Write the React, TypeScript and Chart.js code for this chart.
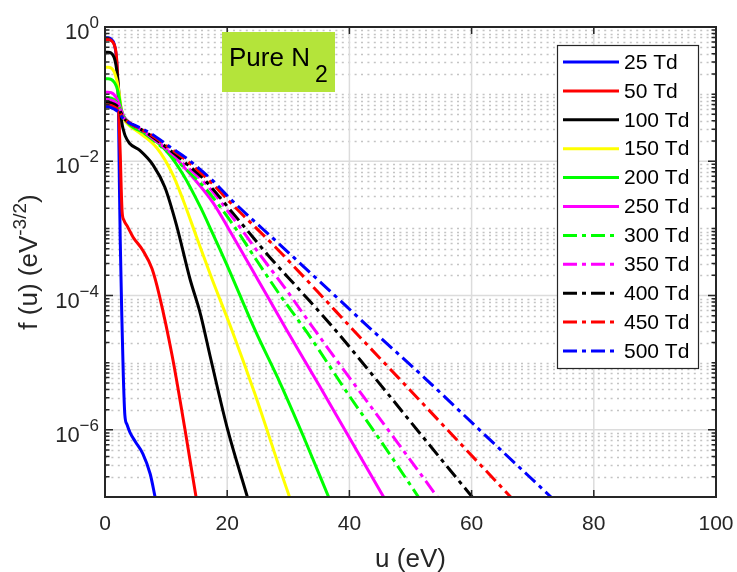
import React, { useEffect, useRef } from 'react';
import { Chart, registerables } from 'chart.js';

Chart.register(...registerables);

const FONT = '"Liberation Sans", Arial, Helvetica, sans-serif';

// ---- data (u in eV, f in eV^-3/2) ----
const U_25 = [0, 0.5, 1, 1.5, 1.8, 2.0, 2.2, 2.35, 2.5, 2.75, 3.0, 3.25, 3.6, 4.1, 5.0, 6.2, 7.4, 8.2];
const F_25 = [0.69, 0.69, 0.66, 0.56, 0.4, 0.224, 0.063, 5.0e-3, 6.3e-4, 5.0e-5, 6.3e-6, 1.66e-6, 1.2e-6, 9.1e-7, 6.6e-7, 4.4e-7, 2.2e-7, 1e-7];

const U_50 = [0, 0.5, 1, 1.5, 1.8, 2.0, 2.15, 2.3, 2.5, 2.65, 2.8, 3.1, 3.6, 4.6, 6.2, 7.7, 8.9, 11, 13.1, 14.9];
const F_50 = [0.65, 0.65, 0.63, 0.55, 0.42, 0.25, 0.115, 0.04, 0.0126, 4.0e-3, 1.78e-3, 1.32e-3, 1.1e-3, 7.4e-4, 4.7e-4, 2.5e-4, 1e-4, 1.26e-5, 1e-6, 1e-7];

const U_100 = [0, 0.5, 1, 1.5, 1.8, 2.0, 2.3, 2.6, 2.8, 3.0, 3.3, 4.0, 5.7, 7.9, 9.8, 11.7, 13.9, 15.6, 17.2, 20, 23.3];
const F_100 = [0.42, 0.42, 0.41, 0.35, 0.27, 0.2, 0.1, 0.05, 0.0355, 0.0295, 0.024, 0.0186, 0.0145, 8.7e-3, 4.1e-3, 1.12e-3, 1.78e-4, 5.4e-5, 1.26e-5, 1.07e-6, 1e-7];

const U_150 = [0, 0.5, 1, 1.5, 1.8, 2.0, 2.3, 2.6, 3.0, 4.0, 5.4, 8.5, 11, 12.8, 15, 17.5, 20.8, 24.5, 28.7, 30.2];
const F_150 = [0.251, 0.251, 0.245, 0.214, 0.178, 0.151, 0.105, 0.066, 0.0447, 0.0339, 0.0275, 0.0158, 6.6e-3, 2.63e-3, 7.4e-4, 1.78e-4, 3.0e-5, 3.5e-6, 2.5e-7, 1e-7];

const U_200 = [0, 0.5, 1, 1.5, 1.8, 2.0, 2.3, 2.6, 3.0, 4.0, 6.9, 10.2, 12.8, 15.6, 17.5, 20, 24.6, 28.7, 32.5, 36.6];
const F_200 = [0.17, 0.17, 0.166, 0.151, 0.135, 0.12, 0.091, 0.063, 0.0479, 0.0355, 0.0251, 0.0138, 6.3e-3, 2.09e-3, 8.9e-4, 2.8e-4, 3.0e-5, 4.9e-6, 7.9e-7, 1e-7];

const U_250 = [0, 0.5, 1, 1.5, 2.0, 2.5, 3.0, 4.0, 5.0, 7.4, 11.1, 14.4, 17.7, 20.2, 25, 29.8, 35, 40, 45.6];
const F_250 = [0.107, 0.107, 0.105, 0.098, 0.083, 0.063, 0.0479, 0.038, 0.0331, 0.024, 0.0123, 5.75e-3, 2.4e-3, 1e-3, 1.74e-4, 3.0e-5, 4.7e-6, 7.6e-7, 1e-7];

const U_300 = [0, 0.5, 1, 1.5, 2.0, 2.5, 3.0, 4.0, 5.0, 7.4, 10.7, 13.4, 16.7, 21, 25, 28.7, 33.1, 40, 45, 51.3];
const F_300 = [0.089, 0.089, 0.087, 0.083, 0.074, 0.06, 0.0468, 0.0372, 0.0324, 0.0224, 0.0126, 7.4e-3, 3.7e-3, 1.12e-3, 3.16e-4, 1e-4, 2.8e-5, 3.2e-6, 7.1e-7, 1e-7];

const U_350 = [0, 0.5, 1, 1.5, 2.0, 2.5, 3.0, 4.0, 5.0, 7.4, 10.7, 13.4, 16.7, 21, 25, 29.8, 34.4, 40, 47, 54.4];
const F_350 = [0.083, 0.083, 0.081, 0.078, 0.071, 0.059, 0.0457, 0.0372, 0.0331, 0.0234, 0.0135, 8.3e-3, 4.4e-3, 1.41e-3, 4.5e-4, 1.17e-4, 3.0e-5, 6.0e-6, 8.3e-7, 1e-7];

const U_400 = [0, 0.5, 1, 1.5, 2.0, 2.5, 3.0, 4.0, 5.0, 7.4, 10.7, 13.4, 16.2, 21, 27, 32, 37.4, 45, 52, 60.1];
const F_400 = [0.076, 0.076, 0.074, 0.071, 0.066, 0.056, 0.0447, 0.0372, 0.0331, 0.0245, 0.0145, 9.1e-3, 5.4e-3, 1.66e-3, 3.7e-4, 1.17e-4, 3.3e-5, 4.8e-6, 7.9e-7, 1e-7];

const U_450 = [0, 0.5, 1, 1.5, 2.0, 2.5, 3.0, 4.0, 5.0, 7.4, 10.7, 13.4, 17.2, 21, 27.9, 34.7, 40.5, 48, 57, 66.4];
const F_450 = [0.069, 0.069, 0.068, 0.065, 0.06, 0.052, 0.0437, 0.0372, 0.0331, 0.0251, 0.0155, 0.0102, 5.0e-3, 2.19e-3, 5.25e-4, 1.17e-4, 3.16e-5, 6.0e-6, 8.1e-7, 1e-7];

const U_500 = [0, 0.5, 1, 1.5, 2.0, 2.5, 3.0, 4.0, 5.0, 7.4, 10.7, 13.4, 17.2, 21, 27.9, 36.9, 43.8, 52, 62, 73];
const F_500 = [0.065, 0.065, 0.063, 0.06, 0.056, 0.05, 0.0427, 0.0372, 0.0339, 0.0263, 0.0162, 0.011, 5.6e-3, 2.5e-3, 6.6e-4, 1.15e-4, 3.0e-5, 6.3e-6, 8.7e-7, 1e-7];

const LABELS = ['25 Td', '50 Td', '100 Td', '150 Td', '200 Td', '250 Td', '300 Td', '350 Td', '400 Td', '450 Td', '500 Td'];
const COLORS = ['#0000ff', '#ff0000', '#000000', '#ffff00', '#00ff00', '#ff00ff', '#00ff00', '#ff00ff', '#000000', '#ff0000', '#0000ff'];
const DASHED = [false, false, false, false, false, false, true, true, true, true, true];
const U_LIST = [U_25, U_50, U_100, U_150, U_200, U_250, U_300, U_350, U_400, U_450, U_500];
const F_LIST = [F_25, F_50, F_100, F_150, F_200, F_250, F_300, F_350, F_400, F_450, F_500];

const X_TICKS = [0, 20, 40, 60, 80, 100];
const Y_MAJOR_EXP = [0, -2, -4, -6];
const Y_MIN = 1e-7;
const Y_MAX = 1;
const DASH_DOT = [14, 5, 4, 5];

const AXIS_COLOR = '#262626';

const matlabPlugin = {
  id: 'matlabLook',
  beforeDatasetsDraw(chart: any) {
    const { ctx, chartArea: a, scales } = chart;
    const xs = scales.x;
    const ys = scales.y;
    ctx.save();
    // minor dotted horizontal grid
    ctx.strokeStyle = '#c4c4c4';
    ctx.lineWidth = 1.5;
    ctx.setLineDash([2, 4.4]);
    for (let k = -7; k <= -1; k++) {
      for (let m = 1; m <= 9; m++) {
        if (m === 1 && k % 2 === 0) continue;
        const v = m * Math.pow(10, k);
        if (v <= Y_MIN * 1.0001 || v >= Y_MAX * 0.9999) continue;
        const y = Math.round(ys.getPixelForValue(v)) + 0.5;
        ctx.beginPath();
        ctx.moveTo(a.left, y);
        ctx.lineTo(a.right, y);
        ctx.stroke();
      }
    }
    ctx.setLineDash([]);
    // major grid
    ctx.strokeStyle = '#dcdcdc';
    ctx.lineWidth = 1.5;
    for (const e of Y_MAJOR_EXP) {
      const v = Math.pow(10, e);
      if (v >= Y_MAX * 0.9999) continue;
      const y = ys.getPixelForValue(v);
      ctx.beginPath();
      ctx.moveTo(a.left, y);
      ctx.lineTo(a.right, y);
      ctx.stroke();
    }
    for (const t of X_TICKS) {
      if (t <= 0 || t >= 100) continue;
      const x = xs.getPixelForValue(t);
      ctx.beginPath();
      ctx.moveTo(x, a.top);
      ctx.lineTo(x, a.bottom);
      ctx.stroke();
    }
    ctx.restore();
  },
  afterDatasetsDraw(chart: any) {
    const { ctx, chartArea: a, scales } = chart;
    const xs = scales.x;
    const ys = scales.y;
    ctx.save();
    // axes box
    ctx.strokeStyle = AXIS_COLOR;
    ctx.lineWidth = 2;
    ctx.setLineDash([]);
    ctx.strokeRect(a.left, a.top, a.right - a.left, a.bottom - a.top);
    // y ticks
    ctx.lineWidth = 1.5;
    for (let k = -7; k <= 0; k++) {
      for (let m = 1; m <= 9; m++) {
        const v = m * Math.pow(10, k);
        if (v < Y_MIN * 0.9999 || v > Y_MAX * 1.0001) continue;
        const y = ys.getPixelForValue(v);
        const major = m === 1 && k % 2 === 0;
        const len = major ? 8 : 4.5;
        ctx.beginPath();
        ctx.moveTo(a.left, y);
        ctx.lineTo(a.left + len, y);
        ctx.moveTo(a.right, y);
        ctx.lineTo(a.right - len, y);
        ctx.stroke();
      }
    }
    // x ticks
    for (const t of X_TICKS) {
      const x = xs.getPixelForValue(t);
      ctx.beginPath();
      ctx.moveTo(x, a.bottom);
      ctx.lineTo(x, a.bottom - 7);
      ctx.moveTo(x, a.top);
      ctx.lineTo(x, a.top + 7);
      ctx.stroke();
    }
    // x tick labels
    ctx.fillStyle = AXIS_COLOR;
    ctx.font = `21px ${FONT}`;
    ctx.textAlign = 'center';
    ctx.textBaseline = 'alphabetic';
    for (const t of X_TICKS) {
      ctx.fillText(String(t), xs.getPixelForValue(t), a.bottom + 33);
    }
    // y tick labels 10^e
    for (const e of Y_MAJOR_EXP) {
      const y = ys.getPixelForValue(Math.pow(10, e));
      ctx.font = `17px ${FONT}`;
      const sup = e < 0 ? '\u2212' + String(-e) : String(e);
      const sw = ctx.measureText(sup).width;
      ctx.font = `22px ${FONT}`;
      const bw = ctx.measureText('10').width;
      const right = a.left - 6;
      ctx.textAlign = 'left';
      ctx.fillText('10', right - sw - bw, y + 12);
      ctx.font = `17px ${FONT}`;
      ctx.fillText(sup, right - sw, y + 1);
    }
    // x axis label
    ctx.font = `26px ${FONT}`;
    ctx.textAlign = 'center';
    ctx.fillText('u (eV)', (a.left + a.right) / 2, 567);
    // y axis label (rotated)
    ctx.save();
    ctx.translate(37, (a.top + a.bottom) / 2);
    ctx.rotate(-Math.PI / 2);
    ctx.textAlign = 'left';
    const p1 = 'f (u) (eV';
    const p2 = '-3/2';
    const p3 = ')';
    ctx.font = `26px ${FONT}`;
    const w1 = ctx.measureText(p1).width;
    const w3 = ctx.measureText(p3).width;
    ctx.font = `19px ${FONT}`;
    const w2 = ctx.measureText(p2).width;
    let sx = -(w1 + w2 + w3) / 2;
    ctx.font = `26px ${FONT}`;
    ctx.fillText(p1, sx, 0);
    sx += w1;
    ctx.font = `19px ${FONT}`;
    ctx.fillText(p2, sx, -11);
    sx += w2;
    ctx.font = `26px ${FONT}`;
    ctx.fillText(p3, sx, 0);
    ctx.restore();

    // annotation box "Pure N2"
    ctx.fillStyle = '#b4e43a';
    ctx.fillRect(222, 32, 113, 60);
    ctx.fillStyle = '#000000';
    ctx.textAlign = 'left';
    ctx.font = `26px ${FONT}`;
    ctx.fillText('Pure N', 229, 66);
    const pw = ctx.measureText('Pure N').width;
    ctx.font = `23px ${FONT}`;
    ctx.fillText('2', 229 + pw + 5, 82);

    // legend
    const lx = 557.5, ly = 45.5, lw = 141, lh = 323;
    ctx.fillStyle = '#ffffff';
    ctx.fillRect(lx, ly, lw, lh);
    ctx.strokeStyle = AXIS_COLOR;
    ctx.lineWidth = 1.2;
    ctx.strokeRect(lx, ly, lw, lh);
    chart.data.datasets.forEach((ds: any, i: number) => {
      const ry = 62 + i * 28.9;
      ctx.strokeStyle = ds.borderColor;
      ctx.lineWidth = 3;
      ctx.setLineDash(ds.borderDash || []);
      ctx.beginPath();
      ctx.moveTo(563, ry);
      ctx.lineTo(619, ry);
      ctx.stroke();
      ctx.setLineDash([]);
      ctx.fillStyle = '#000000';
      ctx.font = `21px ${FONT}`;
      ctx.textBaseline = 'middle';
      ctx.fillText(ds.label, 624, ry + 1);
      ctx.textBaseline = 'alphabetic';
    });
    ctx.restore();
  },
};

export default function App() {
  const ref = useRef<HTMLCanvasElement | null>(null);
  useEffect(() => {
    document.body.style.margin = '0';
    const canvas = ref.current;
    if (!canvas) return;
    const datasets = LABELS.map((label, i) => ({
      label,
      data: U_LIST[i].map((u, j) => ({ x: u, y: F_LIST[i][j] })),
      borderColor: COLORS[i],
      backgroundColor: COLORS[i],
      borderWidth: 3,
      borderDash: DASHED[i] ? DASH_DOT : [],
      pointRadius: 0,
      fill: false,
      cubicInterpolationMode: 'monotone' as const,
      order: -i,
    }));
    const chart = new Chart(canvas, {
      type: 'line',
      data: { datasets },
      options: {
        responsive: false,
        animation: false,
        devicePixelRatio: 1,
        layout: { padding: { left: 0, right: 21, top: 27, bottom: 0 } },
        plugins: { legend: { display: false }, tooltip: { enabled: false } },
        scales: {
          x: {
            type: 'linear',
            min: 0,
            max: 100,
            grid: { display: false },
            border: { display: false },
            ticks: { display: false },
            afterFit: (s: any) => {
              s.height = 75;
            },
          },
          y: {
            type: 'logarithmic',
            min: Y_MIN,
            max: Y_MAX,
            grid: { display: false },
            border: { display: false },
            ticks: { display: false },
            afterFit: (s: any) => {
              s.width = 105;
            },
          },
        },
      } as any,
      plugins: [matlabPlugin],
    });
    return () => chart.destroy();
  }, []);
  return (
    <div style={{ width: 737, height: 572, background: '#ffffff' }}>
      <canvas ref={ref} width={737} height={572} style={{ display: 'block' }} />
    </div>
  );
}
